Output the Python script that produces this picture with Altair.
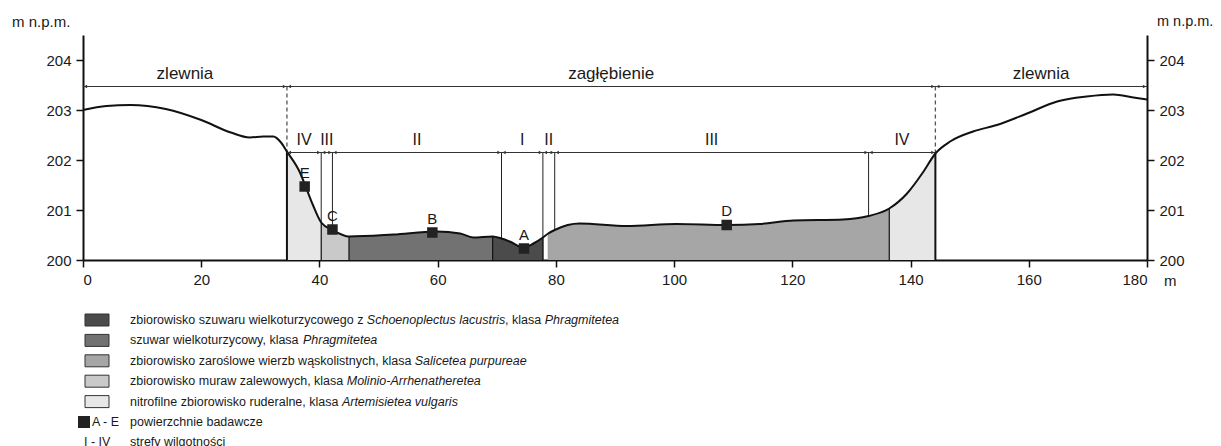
import altair as alt
import pandas as pd

FONT = "Liberation Sans"
INK = "#1a1a1a"

# ---------------- data ----------------
prof_x = [0, 4, 8, 14, 20, 25, 28.2, 30.5, 32.2, 33.5, 34.5, 36.7, 37.5, 38.9, 40.3,
          42.2, 45.0, 52.5, 59.8, 63.8, 66.0, 69.3, 70.8, 72.2, 74.5, 76.2, 77.8,
          78.7, 79.8, 82, 84, 92, 100.4, 108.9, 114.5, 120.2, 128.6, 132.9, 136.4,
          139.4, 142.2, 144.2, 146.7, 150.6, 154.6, 159.7, 164.8, 169.8, 174.3, 177.7, 180]
prof_y = [203.0, 203.08, 203.1, 203.02, 202.8, 202.55, 202.45, 202.47, 202.47, 202.35, 202.17,
          201.75, 201.52, 201.1, 200.75, 200.6, 200.47, 200.51, 200.57, 200.53, 200.45,
          200.47, 200.43, 200.37, 200.25, 200.33, 200.45, 200.53, 200.6, 200.7, 200.73,
          200.68, 200.72, 200.7, 200.72, 200.79, 200.81, 200.88, 201.03, 201.33, 201.77,
          202.13, 202.37, 202.57, 202.7, 202.93, 203.17, 203.27, 203.31, 203.25, 203.21]

# vegetation fill segments
fill_start = [34.5, 40.3, 45.0, 69.3, 78.7, 136.4]
fill_end = [40.3, 45.0, 69.3, 77.8, 136.4, 144.2]
fill_color = ["#e7e7e7", "#c9c9c9", "#727272", "#4b4b4b", "#a6a6a6", "#e7e7e7"]

# moisture zones
zone_bounds = [34.5, 40.3, 42.2, 70.8, 77.8, 79.8, 132.9, 144.2]
zone_labels = ["IV", "III", "II", "I", "II", "III", "IV"]
zone_level = 202.15

# sections
sect_bounds = [0, 34.5, 144.2, 180]
sect_labels = ["zlewnia", "zagłębienie", "zlewnia"]
sect_level = 203.47

# sample plots
plot_names = ["A", "B", "C", "D", "E"]
plot_x = [74.6, 59.1, 42.2, 108.9, 37.5]
plot_y = [200.23, 200.55, 200.61, 200.70, 201.47]

# legend: each row is a list of (text, italic?) pieces
legend_swatch = ["#4b4b4b", "#727272", "#a6a6a6", "#c9c9c9", "#e7e7e7"]
legend_rows = [
    [("zbiorowisko szuwaru wielkoturzycowego z ", False), ("Schoenoplectus lacustris", True),
     (", klasa ", False), ("Phragmitetea", True)],
    [("szuwar wielkoturzycowy, klasa ", False), ("Phragmitetea", True)],
    [("zbiorowisko zaroślowe wierzb wąskolistnych, klasa ", False), ("Salicetea purpureae", True)],
    [("zbiorowisko muraw zalewowych, klasa ", False), ("Molinio-Arrhenatheretea", True)],
    [("nitrofilne zbiorowisko ruderalne, klasa ", False), ("Artemisietea vulgaris", True)],
    [("powierzchnie badawcze", False)],
    [("strefy wilgotności", False)],
]
LEG_FS = 12.5

W, H = 1064, 225

# approximate Arial / Liberation Sans advance widths (per 1000 em) for text layout
_AW = {" ": 278, ",": 278, "-": 333, ".": 278, "a": 556, "b": 556, "c": 500, "d": 556, "e": 556,
       "f": 278, "g": 556, "h": 556, "i": 222, "j": 222, "k": 500, "l": 222, "m": 833, "n": 556,
       "o": 556, "p": 556, "q": 556, "r": 333, "s": 500, "t": 278, "u": 556, "v": 500, "w": 722,
       "x": 500, "y": 500, "z": 500, "ś": 500, "ą": 556, "ł": 222, "ę": 556, "ć": 500,
       "A": 667, "M": 833, "P": 667, "S": 667}


def text_w(s, fs):
    return sum(_AW.get(ch, 556) for ch in s) * fs / 1000.0


# ---------------- tables ----------------
P = dict(zip(prof_x, prof_y))
profile = pd.DataFrame({"x": prof_x, "y": prof_y})

zone_lines = pd.DataFrame({"x": zone_bounds[1:-1], "y": zone_level, "y2": 200})

thin_x = [40.3, 45.0, 69.3, 77.8, 136.4]
thin_b = pd.DataFrame({"x": thin_x, "y": 200, "y2": [P[x] for x in thin_x]})
thick_x = [34.5, 144.2]
thick_b = pd.DataFrame({"x": thick_x, "y": 200, "y2": [P[x] for x in thick_x]})
gray_b = pd.DataFrame({"x": [78.7], "y": [200], "y2": [P[78.7]]})
dashed = pd.DataFrame({"x": thick_x, "y": sect_level, "y2": [P[x] for x in thick_x]})

hlines = pd.DataFrame({"x": [sect_bounds[0], zone_bounds[0]],
                       "x2": [sect_bounds[-1], zone_bounds[-1]],
                       "y": [sect_level, zone_level]})

heads = []
for bounds, lvl in [(sect_bounds, sect_level), (zone_bounds, zone_level)]:
    for a, b in zip(bounds[:-1], bounds[1:]):
        heads.append({"x": a, "y": lvl, "dir": "L"})
        heads.append({"x": b, "y": lvl, "dir": "R"})
heads = pd.DataFrame(heads)

zone_txt = pd.DataFrame({"x": [(a + b) / 2 for a, b in zip(zone_bounds[:-1], zone_bounds[1:])],
                         "y": 202.4, "t": zone_labels})
sect_txt = pd.DataFrame({"x": [(a + b) / 2 for a, b in zip(sect_bounds[:-1], sect_bounds[1:])],
                         "y": 203.72, "t": sect_labels})
plots = pd.DataFrame({"x": plot_x, "y": plot_y, "t": plot_names})

# legend tables (pixel coordinates relative to plot origin)
row_y = [285 + 20.4 * i for i in range(7)]
sw = pd.DataFrame({"x": 2, "x2": 26, "y": [row_y[i] - 6 for i in range(5)],
                   "y2": [row_y[i] + 6 for i in range(5)], "c": legend_swatch})
ln, li = [], []
for i, pieces in enumerate(legend_rows):
    cx = 47.0
    for t, ital in pieces:
        (li if ital else ln).append({"x": cx, "y": row_y[i], "t": t})
        cx += text_w(t, LEG_FS)
ln.append({"x": 9, "y": row_y[5], "t": "A - E"})
ln.append({"x": 1, "y": row_y[6], "t": "I - IV"})
leg_norm = pd.DataFrame(ln)
leg_ital = pd.DataFrame(li)
leg_sq = pd.DataFrame({"x": [-5], "x2": [7], "y": [row_y[5] - 6], "y2": [row_y[5] + 6]})

# ---------------- chart ----------------
xs = alt.Scale(domain=[0, 180], nice=False)
ys = alt.Scale(domain=[200, 204.5], nice=False)
xax = alt.Axis(values=list(range(0, 181, 20)), title=None, grid=False)
yax_l = alt.Axis(values=[200, 201, 202, 203, 204], title=None, grid=False, orient="left", format="d")
yax_r = alt.Axis(values=[200, 201, 202, 203, 204], title=None, grid=False, orient="right", format="d")

X = alt.X("x:Q", scale=xs, axis=xax)
Y = alt.Y("y:Q", scale=ys, axis=yax_l)
Yn = alt.Y("y:Q", scale=ys, axis=None)

l_zone = alt.Chart(zone_lines).mark_rule(color="#222", strokeWidth=1).encode(x=X, y=Y, y2="y2:Q")

fill_layers = []
for a, b, col in zip(fill_start, fill_end, fill_color):
    seg = profile[(profile["x"] >= a) & (profile["x"] <= b)].assign(y0=200.0)
    fill_layers.append(
        alt.Chart(seg).mark_area(interpolate="monotone", color=col, opacity=1).encode(
            x=X, y=alt.Y("y:Q", scale=ys, axis=None), y2=alt.Y2("y0")))

l_thin = alt.Chart(thin_b).mark_rule(color="#111", strokeWidth=1.2).encode(x=X, y=Yn, y2="y2:Q")
l_gray = alt.Chart(gray_b).mark_rule(color="#999", strokeWidth=1).encode(x=X, y=Yn, y2="y2:Q")
l_thick = alt.Chart(thick_b).mark_rule(color="#111", strokeWidth=2).encode(x=X, y=Yn, y2="y2:Q")
l_dash = alt.Chart(dashed).mark_rule(color="#555", strokeWidth=1.3, strokeDash=[4, 3]).encode(
    x=X, y=Yn, y2="y2:Q")

l_prof = alt.Chart(profile).mark_line(interpolate="monotone", color="#111", strokeWidth=2).encode(
    x=X, y=alt.Y("y:Q", scale=ys, axis=yax_r))

l_h = alt.Chart(hlines).mark_rule(color="#333", strokeWidth=1).encode(x=X, x2="x2:Q", y=Yn)
l_hl = alt.Chart(heads[heads["dir"] == "L"]).mark_point(
    shape="triangle-left", filled=True, size=14, color="#333", opacity=1).encode(
    x=X, y=Yn, xOffset=alt.value(2.5))
l_hr = alt.Chart(heads[heads["dir"] == "R"]).mark_point(
    shape="triangle-right", filled=True, size=14, color="#333", opacity=1).encode(
    x=X, y=Yn, xOffset=alt.value(-2.5))

l_zt = alt.Chart(zone_txt).mark_text(font=FONT, fontSize=16, color=INK, baseline="middle").encode(
    x=X, y=Yn, text="t:N")
l_st = alt.Chart(sect_txt).mark_text(font=FONT, fontSize=17, color=INK, baseline="middle").encode(
    x=X, y=Yn, text="t:N")

l_pts = alt.Chart(plots).mark_point(shape="square", filled=True, size=110, color="#222", opacity=1).encode(
    x=X, y=Yn)
l_pt_t = alt.Chart(plots).mark_text(font=FONT, fontSize=15, color=INK, dy=-14, baseline="middle").encode(
    x=X, y=Yn, text="t:N")

# extra texts
unit_l = alt.Chart(pd.DataFrame({"t": ["m n.p.m."]})).mark_text(
    font=FONT, fontSize=15, color=INK, align="left", baseline="middle").encode(
    x=alt.value(-71), y=alt.value(-13), text="t:N")
unit_r = alt.Chart(pd.DataFrame({"t": ["m n.p.m."]})).mark_text(
    font=FONT, fontSize=14.5, color=INK, align="left", baseline="middle").encode(
    x=alt.value(1074), y=alt.value(-13), text="t:N")
unit_m = alt.Chart(pd.DataFrame({"t": ["m"]})).mark_text(
    font=FONT, fontSize=15, color=INK, align="left", baseline="middle").encode(
    x=alt.value(W + 17), y=alt.value(H + 21), text="t:N")

PX = lambda c: alt.X(c, scale=None, axis=None)
PY = lambda c: alt.Y(c, scale=None, axis=None)
l_sw = alt.Chart(sw).mark_rect(stroke="#333", strokeWidth=1).encode(
    x=PX("x:Q"), x2="x2:Q", y=PY("y:Q"), y2="y2:Q", fill=alt.Fill("c:N", scale=None))
l_sq = alt.Chart(leg_sq).mark_rect(color="#222").encode(x=PX("x:Q"), x2="x2:Q", y=PY("y:Q"), y2="y2:Q")
l_ln = alt.Chart(leg_norm).mark_text(font=FONT, fontSize=LEG_FS, color=INK, align="left",
                                     baseline="middle").encode(x=PX("x:Q"), y=PY("y:Q"), text="t:N")
l_li = alt.Chart(leg_ital).mark_text(font=FONT, fontSize=LEG_FS, color=INK, align="left", fontStyle="italic",
                                     baseline="middle").encode(x=PX("x:Q"), y=PY("y:Q"), text="t:N")

chart = alt.layer(
    l_zone, *fill_layers, l_thin, l_gray, l_thick, l_dash, l_prof, l_h, l_hl, l_hr,
    l_zt, l_st, l_pts, l_pt_t, unit_l, unit_r, unit_m
).resolve_axis(y="independent")

legend = alt.layer(l_sw, l_sq, l_ln, l_li)

full = alt.layer(chart, legend).properties(
    width=W, height=H,
    autosize=alt.AutoSizeParams(type="none"),
    padding={"left": 75, "top": 27, "right": 66, "bottom": 186},
    background="white",
).configure_view(stroke=None).configure_axis(
    domainColor="#111", domainWidth=2, tickColor="#111", tickWidth=1.5, tickSize=7,
    labelFont=FONT, labelFontSize=15, labelColor=INK, labelPadding=5,
)

full.save("out.html", embed_options={"renderer": "svg", "actions": False})
